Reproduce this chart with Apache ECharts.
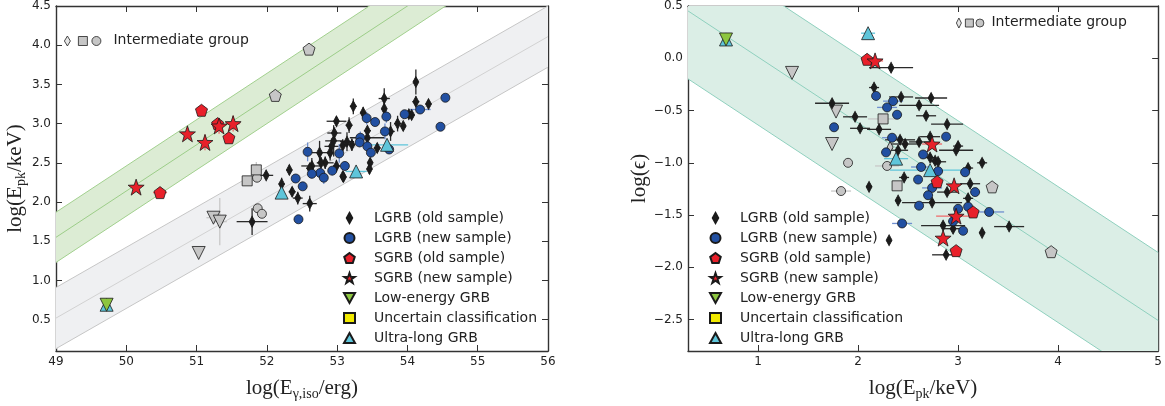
<!DOCTYPE html>
<html>
<head>
<meta charset="utf-8">
<script src="https://cdn.jsdelivr.net/npm/echarts@6/dist/echarts.min.js"></script>
<style>
  html, body { margin: 0; padding: 0; background: #fff; }
  #chart { width: 1165px; height: 406px; }
</style>
</head>
<body>
<div id="chart"></div>
<script>
// ---- tick labels ----
const leftTicksX = [49, 50, 51, 52, 53, 54, 55, 56];
const leftTicksY = [0.5, 1.0, 1.5, 2.0, 2.5, 3.0, 3.5, 4.0, 4.5];
const rightTicksX = [1, 2, 3, 4, 5];
const rightTicksY = [-2.5, -2.0, -1.5, -1.0, -0.5, 0.0, 0.5];

// ---- correlation bands: [value at x start, value at x end] ----
const leftBandX = [49, 56];
const grayBandLower = [0.13, 3.72];
const grayBandCenter = [0.52, 4.11];
const grayBandUpper = [0.91, 4.50];
const greenBandLower = [1.23, 5.36];
const greenBandCenter = [1.55, 5.68];
const greenBandUpper = [1.87, 6.00];
const rightBandX = [0.3, 5];
const rightBandLower = [-0.197, -3.158];
const rightBandCenter = [0.453, -2.508];
const rightBandUpper = [1.103, -1.858];

// ---- left panel: log(E_gamma,iso) vs log(Epk)  [x, y, xerr, yerr] ----
const leftLgrbOld = [
  [54.12, 3.53, 0.03, 0.16], [54.12, 3.28, 0.05, 0.07], [54.30, 3.25, 0.04, 0.05],
  [53.67, 3.32, 0.08, 0.13], [53.67, 3.19, 0.03, 0.07], [53.23, 3.22, 0.05, 0.10],
  [53.37, 3.14, 0.04, 0.07], [52.99, 3.03, 0.14, 0.06], [53.17, 2.98, 0.05, 0.10],
  [53.86, 3.00, 0.05, 0.10], [53.94, 2.97, 0.03, 0.05], [54.02, 3.12, 0.05, 0.05],
  [54.06, 3.11, 0.04, 0.05], [53.43, 2.82, 0.25, 0.08], [53.43, 2.91, 0.05, 0.05],
  [53.76, 2.90, 0.06, 0.12], [53.14, 2.77, 0.10, 0.12], [53.21, 2.73, 0.05, 0.08],
  [52.95, 2.78, 0.12, 0.20], [52.92, 2.71, 0.10, 0.10], [53.08, 2.72, 0.05, 0.08],
  [52.75, 2.63, 0.20, 0.15], [52.90, 2.63, 0.05, 0.10], [52.83, 2.50, 0.12, 0.08],
  [52.64, 2.46, 0.15, 0.10], [52.77, 2.50, 0.05, 0.07], [52.99, 2.46, 0.05, 0.08],
  [53.47, 2.50, 0.03, 0.06], [53.46, 2.42, 0.03, 0.06], [53.08, 2.33, 0.04, 0.06],
  [52.32, 2.41, 0.04, 0.06], [52.21, 2.23, 0.04, 0.08], [52.36, 2.13, 0.05, 0.06],
  [52.44, 2.05, 0.07, 0.08], [52.61, 1.98, 0.10, 0.10], [52.62, 2.42, 0.04, 0.05],
  [53.57, 2.69, 0.05, 0.06], [52.96, 2.88, 0.10, 0.06], [51.99, 2.34, 0.10, 0.05],
  [51.79, 1.75, 0.22, 0.17], [53.09, 2.32, 0.04, 0.06], [52.61, 2.43, 0.05, 0.05]
];
const leftLgrbNew = [
  [54.54, 3.33, 0, 0], [54.47, 2.96, 0, 0], [54.18, 3.18, 0.15, 0.05],
  [53.96, 3.12, 0.05, 0.05], [53.70, 3.09, 0.03, 0.08], [53.42, 3.07, 0.03, 0.08],
  [53.54, 3.02, 0.03, 0.05], [53.68, 2.90, 0.05, 0.10], [53.33, 2.82, 0.05, 0.08],
  [53.32, 2.76, 0.04, 0.06], [53.43, 2.71, 0.04, 0.06], [53.48, 2.63, 0.05, 0.06],
  [53.74, 2.67, 0.04, 0.05], [53.03, 2.62, 0.05, 0.12], [52.58, 2.64, 0.05, 0.12],
  [53.11, 2.46, 0.04, 0.06], [52.93, 2.40, 0.03, 0.06], [52.76, 2.37, 0.03, 0.07],
  [52.81, 2.31, 0.03, 0.08], [52.64, 2.36, 0.03, 0.06], [52.41, 2.30, 0.03, 0.05],
  [52.51, 2.20, 0.03, 0.05], [52.45, 1.78, 0, 0]
];
const leftSgrbOld = [[51.07, 3.17, 0, 0.05], [51.46, 2.82, 0.05, 0.03], [51.30, 3.00, 0, 0], [50.48, 2.12, 0.10, 0]];
const leftSgrbNew = [[50.87, 2.87, 0.05, 0.05], [51.12, 2.76, 0.05, 0.10], [51.32, 2.97, 0.05, 0.10], [51.52, 3.00, 0.10, 0.10], [50.14, 2.19, 0.05, 0.05]];
const leftLowEnergy = [[49.72, 0.69, 0, 0]];
const leftUltraLong = [[53.71, 2.73, 0.30, 0.05], [53.27, 2.39, 0.15, 0.05], [52.21, 2.12, 0, 0], [49.72, 0.69, 0, 0]];
const leftInterTriangle = [[51.03, 1.35, 0, 0.05], [51.24, 1.80, 0.10, 0.05], [51.33, 1.75, 0.10, 0.30]];
const leftInterCircle = [[51.87, 1.92, 0, 0], [51.93, 1.85, 0, 0], [51.86, 2.31, 0, 0.05]];
const leftInterSquare = [[51.72, 2.27, 0, 0.05], [51.85, 2.41, 0, 0.10]];
const leftInterPentagon = [[52.12, 3.36, 0, 0.08], [52.60, 3.95, 0, 0.05]];

// ---- right panel: log(Epk) vs log(epsilon) ----
const rightLgrbOld = [
  [2.33, -0.09, 0.22, 0.02], [1.74, -0.43, 0.17, 0.02], [2.16, -0.28, 0.05, 0.02],
  [1.97, -0.56, 0.12, 0.02], [2.02, -0.67, 0.10, 0.02], [2.21, -0.68, 0.12, 0.02],
  [2.11, -1.23, 0.03, 0.02], [2.43, -0.37, 0.12, 0.02], [2.73, -0.38, 0.16, 0.02],
  [2.61, -0.45, 0.20, 0.02], [2.68, -0.55, 0.10, 0.02], [2.89, -0.63, 0.16, 0.02],
  [2.42, -0.78, 0.15, 0.02], [2.72, -0.75, 0.10, 0.02], [2.47, -0.82, 0.15, 0.02],
  [2.61, -0.80, 0.10, 0.02], [3.00, -0.84, 0.05, 0.02], [2.98, -0.88, 0.17, 0.02],
  [2.40, -0.88, 0.10, 0.02], [2.72, -0.95, 0.05, 0.02], [2.77, -0.98, 0.05, 0.02],
  [2.80, -0.99, 0.08, 0.02], [3.10, -1.05, 0.05, 0.02], [3.24, -1.00, 0.05, 0.02],
  [2.46, -1.14, 0.05, 0.02], [3.12, -1.20, 0.10, 0.02], [2.89, -1.28, 0.10, 0.02],
  [2.74, -1.38, 0.30, 0.02], [2.40, -1.36, 0.03, 0.02], [3.10, -1.34, 0.05, 0.02],
  [2.85, -1.60, 0.22, 0.02], [2.95, -1.63, 0.10, 0.02], [3.24, -1.67, 0.03, 0.02],
  [2.31, -1.74, 0.02, 0.02], [2.88, -1.88, 0.14, 0.02], [3.51, -1.61, 0.15, 0.02]
];
const rightLgrbNew = [
  [2.18, -0.36, 0, 0], [2.29, -0.47, 0.10, 0], [2.35, -0.41, 0.10, 0],
  [2.39, -0.54, 0.05, 0], [1.76, -0.66, 0, 0], [2.34, -0.76, 0.10, 0],
  [2.28, -0.90, 0.05, 0], [2.88, -0.75, 0, 0], [2.65, -0.92, 0.05, 0],
  [2.63, -1.04, 0.10, 0], [2.80, -1.08, 0.05, 0], [3.07, -1.09, 0.05, 0],
  [2.60, -1.16, 0, 0], [2.74, -1.24, 0.10, 0], [3.17, -1.28, 0.05, 0],
  [2.70, -1.31, 0.05, 0], [3.00, -1.44, 0, 0], [3.10, -1.42, 0, 0],
  [3.31, -1.47, 0.15, 0], [2.95, -1.56, 0.05, 0], [2.61, -1.41, 0, 0],
  [2.44, -1.58, 0.10, 0], [3.05, -1.65, 0, 0]
];
const rightSgrbOld = [[2.09, -0.01, 0, 0], [2.79, -1.18, 0, 0], [3.15, -1.47, 0, 0], [2.98, -1.84, 0, 0]];
const rightSgrbNew = [[2.17, -0.025, 0.08, 0], [2.74, -0.82, 0.10, 0], [2.96, -1.22, 0.05, 0], [2.98, -1.51, 0.20, 0], [2.85, -1.72, 0.05, 0]];
const rightLowEnergy = [[0.68, 0.18, 0, 0]];
const rightUltraLong = [[0.68, 0.18, 0, 0], [2.10, 0.24, 0.07, 0], [2.38, -0.96, 0.12, 0], [2.72, -1.07, 0.40, 0]];
const rightInterTriangle = [[1.34, -0.14, 0, 0], [1.78, -0.51, 0, 0], [1.74, -0.82, 0, 0]];
const rightInterCircle = [[1.90, -1.00, 0, 0], [2.29, -1.03, 0.12, 0], [1.83, -1.27, 0.10, 0]];
const rightInterSquare = [[2.25, -0.58, 0.15, 0], [2.39, -1.22, 0, 0]];
const rightInterDiamond = [[2.32, -0.85, 0, 0]];
const rightInterPentagon = [[3.34, -1.23, 0, 0], [3.93, -1.85, 0, 0]];

const legendNames = ['LGRB (old sample)', 'LGRB (new sample)', 'SGRB (old sample)', 'SGRB (new sample)',
  'Low-energy GRB', 'Uncertain classification', 'Ultra-long GRB'];

const PENT = 'path://M0,-10L9.51,-3.09L5.88,8.09L-5.88,8.09L-9.51,-3.09Z';
const STAR = 'path://M0,-10L2.35,-3.24L9.51,-3.09L3.8,1.24L5.88,8.09L0,4L-5.88,8.09L-3.8,1.24L-9.51,-3.09L-2.35,-3.24Z';
const DIAMOND_ICON = 'path://M3,0L6,5.5L3,11L0,5.5Z';
const DOWN_ICON = 'path://M0,0L10,0L5,9Z';
const TXT = '#222';
const AX = '#333';
const SERIF = 'Liberation Serif';
const SANS = 'DejaVu Sans';

var chart = echarts.init(document.getElementById('chart'));

function bandSeries(axes, xs, lo, mid, hi, fill, edge, centre) {
  return Object.assign({
    type: 'custom', silent: true, clip: true, z: 1,
    data: [[xs[0], xs[1], lo[0], lo[1], mid[0], mid[1], hi[0], hi[1]]],
    encode: { x: [0, 1], y: [2, 3] },
    renderItem: function (params, api) {
      var x0 = api.value(0), x1 = api.value(1);
      var a = api.coord([x0, api.value(2)]), b = api.coord([x1, api.value(3)]);
      var c = api.coord([x0, api.value(4)]), d = api.coord([x1, api.value(5)]);
      var e = api.coord([x0, api.value(6)]), f = api.coord([x1, api.value(7)]);
      function ln(p, q, col) {
        return { type: 'line', shape: { x1: p[0], y1: p[1], x2: q[0], y2: q[1] }, style: { stroke: col, lineWidth: 1 } };
      }
      return {
        type: 'group',
        children: [
          { type: 'polygon', shape: { points: [a, b, f, e] }, style: { fill: fill } },
          ln(a, b, edge), ln(e, f, edge), ln(c, d, centre)
        ]
      };
    }
  }, axes);
}

function errSeries(axes, data, color) {
  return Object.assign({
    type: 'custom', silent: true, z: 2,
    data: data,
    encode: { x: 0, y: 1 },
    renderItem: function (params, api) {
      var x = api.value(0), y = api.value(1), ex = api.value(2), ey = api.value(3);
      var kids = [];
      if (ex > 0) {
        var p = api.coord([x - ex, y]), q = api.coord([x + ex, y]);
        kids.push({ type: 'line', shape: { x1: p[0], y1: p[1], x2: q[0], y2: q[1] }, style: { stroke: color, lineWidth: 1.3 } });
      }
      if (ey > 0) {
        var r = api.coord([x, y - ey]), s = api.coord([x, y + ey]);
        kids.push({ type: 'line', shape: { x1: r[0], y1: r[1], x2: s[0], y2: s[1] }, style: { stroke: color, lineWidth: 1.3 } });
      }
      return { type: 'group', children: kids };
    }
  }, axes);
}

function pts(axes, name, data, symbol, size, color, errColor, rotate, z) {
  var out = [];
  if (errColor) out.push(errSeries(axes, data, errColor));
  out.push(Object.assign({
    type: 'scatter', name: name, data: data, symbol: symbol, symbolSize: size,
    symbolRotate: rotate || 0, z: z || 3,
    itemStyle: { color: color, borderColor: '#1a1a1a', borderWidth: 0.8, opacity: 1 },
    emphasis: { disabled: true }
  }, axes));
  return out;
}

function panelSeries(axes, d) {
  return [].concat(
    pts(axes, 'Intermediate', d.iTri, 'triangle', 13, '#c6c6c6', '#c8c8c8', 180),
    pts(axes, 'Intermediate', d.iCir, 'circle', 9, '#c6c6c6', '#c8c8c8'),
    pts(axes, 'Intermediate', d.iSq, 'rect', 10, '#c6c6c6', '#c8c8c8'),
    pts(axes, 'Intermediate', d.iDia || [], 'diamond', [6, 11], '#c6c6c6', null),
    pts(axes, 'Intermediate', d.iPent, PENT, 12, '#c6c6c6', '#c8c8c8'),
    pts(axes, legendNames[0], d.lo, 'diamond', [6, 11], '#1c1c1c', '#2a2a2a'),
    pts(axes, legendNames[1], d.ln, 'circle', 9, '#2250a2', '#6f8fd0'),
    pts(axes, legendNames[6], d.ul, 'triangle', 13, '#5ec5da', '#5ec5da', 0, 4),
    pts(axes, legendNames[4], d.le, 'triangle', 13, '#8dc63f', null, 180, 5),
    pts(axes, legendNames[5], [], 'rect', 10, '#f2ea00', null),
    pts(axes, legendNames[2], d.so, PENT, 12, '#e8202a', '#f06a6a', 0, 6),
    pts(axes, legendNames[3], d.sn, STAR, 16, '#e8202a', '#f06a6a', 0, 6)
  );
}

var axL = { xAxisIndex: 0, yAxisIndex: 0 };
var axR = { xAxisIndex: 2, yAxisIndex: 2 };

var series = [].concat(
  [bandSeries(axL, leftBandX, grayBandLower, grayBandCenter, grayBandUpper, '#eff0f2', '#c6c6c6', '#d2d2d2'),
   bandSeries(axL, leftBandX, greenBandLower, greenBandCenter, greenBandUpper, '#dcecd4', '#a2d08e', '#9ccd88'),
   bandSeries(axR, rightBandX, rightBandLower, rightBandCenter, rightBandUpper, '#dbeee6', '#8fd0be', '#8fd0be')],
  panelSeries(axL, {
    lo: leftLgrbOld, ln: leftLgrbNew, so: leftSgrbOld, sn: leftSgrbNew, le: leftLowEnergy, ul: leftUltraLong,
    iTri: leftInterTriangle, iCir: leftInterCircle, iSq: leftInterSquare, iPent: leftInterPentagon
  }),
  panelSeries(axR, {
    lo: rightLgrbOld, ln: rightLgrbNew, so: rightSgrbOld, sn: rightSgrbNew, le: rightLowEnergy, ul: rightUltraLong,
    iTri: rightInterTriangle, iCir: rightInterCircle, iSq: rightInterSquare, iDia: rightInterDiamond, iPent: rightInterPentagon
  })
);

function fmt1(v) { return (v < 0 ? '\u2212' : '') + Math.abs(v).toFixed(1); }

function axis(gridIndex, position, min, max, ticks, formatter, extra) {
  return Object.assign({
    type: 'value', gridIndex: gridIndex, position: position, min: min, max: max,
    axisLine: { show: true, onZero: false, lineStyle: { color: AX, width: 1.4 } },
    axisTick: { show: true, inside: true, length: 6, customValues: ticks, lineStyle: { color: AX, width: 1 } },
    axisLabel: formatter ? { show: true, customValues: ticks, formatter: formatter, margin: 5,
      fontFamily: SANS, fontSize: 12, color: TXT } : { show: false },
    splitLine: { show: false }
  }, extra || {});
}

function richName() {
  return {
    fontFamily: SERIF, fontSize: 21, color: TXT,
    rich: {
      a: { fontFamily: SERIF, fontSize: 21, color: TXT },
      s: { fontFamily: SERIF, fontSize: 14, color: TXT, padding: [12, 0, 0, 0] }
    }
  };
}

function legendData() {
  return legendNames.map(function (n) {
    if (n === 'LGRB (old sample)') return { name: n, icon: DIAMOND_ICON };
    if (n === 'Low-energy GRB') return { name: n, icon: DOWN_ICON };
    return { name: n };
  });
}

var legendBase = {
  orient: 'vertical', selectedMode: false, itemWidth: 11, itemHeight: 10, itemGap: 6,
  symbolKeepAspect: true, padding: 0,
  textStyle: { fontFamily: SANS, fontSize: 14, color: TXT, lineHeight: 14, padding: [0, 0, 0, 14] }
};

var option = {
  animation: false,
  backgroundColor: '#fff',
  grid: [
    { left: 56, right: 617, top: 6, bottom: 47 },
    { left: 688, right: 5, top: 6, bottom: 47 }
  ],
  xAxis: [
    axis(0, 'bottom', 49, 56, leftTicksX, function (v) { return String(v); }, {
      name: '{a|log(E}{s|\u03b3,iso}{a|/erg)}', nameLocation: 'middle', nameGap: 24, nameTextStyle: richName()
    }),
    axis(0, 'top', 49, 56, leftTicksX, null),
    axis(1, 'bottom', 0.3, 5, rightTicksX, function (v) { return String(v); }, {
      name: '{a|log(E}{s|pk}{a|/keV)}', nameLocation: 'middle', nameGap: 24, nameTextStyle: richName()
    }),
    axis(1, 'top', 0.3, 5, rightTicksX, null)
  ],
  yAxis: [
    axis(0, 'left', 0.1, 4.5, leftTicksY, fmt1, {
      name: '{a|log(E}{s|pk}{a|/keV)}', nameLocation: 'middle', nameGap: 27, nameTextStyle: richName()
    }),
    axis(0, 'right', 0.1, 4.5, leftTicksY, null),
    axis(1, 'left', -2.8, 0.5, rightTicksY, fmt1, {
      name: '{a|log(\u03f5)}', nameLocation: 'middle', nameGap: 38, nameTextStyle: richName()
    }),
    axis(1, 'right', -2.8, 0.5, rightTicksY, null)
  ],
  legend: [
    Object.assign({}, legendBase, { left: 343, top: 211, data: legendData() }),
    Object.assign({}, legendBase, { left: 709, top: 211, data: legendData() })
  ],
  graphic: [
    { type: 'group', left: 64, top: 33, children: [
      { type: 'polygon', shape: { points: [[3, 0], [6, 5], [3, 10], [0, 5]] }, style: { fill: '#e6e6e6', stroke: '#222', lineWidth: 0.8 } },
      { type: 'rect', shape: { x: 14, y: 0.5, width: 9, height: 9 }, style: { fill: '#c6c6c6', stroke: '#222', lineWidth: 0.8 } },
      { type: 'circle', shape: { cx: 32, cy: 5, r: 4.5 }, style: { fill: '#c6c6c6', stroke: '#222', lineWidth: 0.8 } },
      { type: 'text', x: 49, y: -3, style: { text: 'Intermediate group', fontFamily: SANS, fontSize: 14, fill: TXT } }
    ] },
    { type: 'group', left: 956, top: 15, children: [
      { type: 'polygon', shape: { points: [[2.5, 0], [5, 5], [2.5, 10], [0, 5]] }, style: { fill: '#e6e6e6', stroke: '#222', lineWidth: 0.8 } },
      { type: 'rect', shape: { x: 9, y: 1, width: 8, height: 8 }, style: { fill: '#c6c6c6', stroke: '#222', lineWidth: 0.8 } },
      { type: 'circle', shape: { cx: 23.5, cy: 5, r: 4 }, style: { fill: '#c6c6c6', stroke: '#222', lineWidth: 0.8 } },
      { type: 'text', x: 35, y: -3, style: { text: 'Intermediate group', fontFamily: SANS, fontSize: 14, fill: TXT } }
    ] }
  ],
  series: series
};

chart.setOption(option);
</script>
</body>
</html>
